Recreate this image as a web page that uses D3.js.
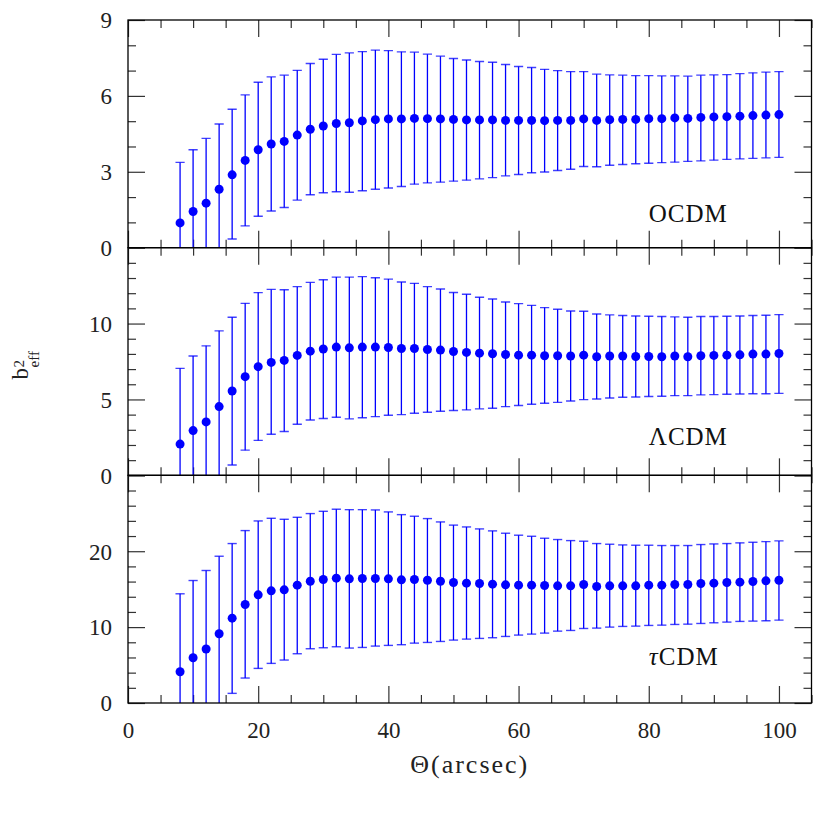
<!DOCTYPE html>
<html><head><meta charset="utf-8">
<script src="https://cdn.jsdelivr.net/npm/d3@7"></script>
<style>body{margin:0;background:#fff}</style>
</head><body><svg id="c" width="830" height="830"></svg>
<script>
const theta = [8,10,12,14,16,18,20,22,24,26,28,30,32,34,36,38,40,42,44,46,48,50,
  52,54,56,58,60,62,64,66,68,70,72,74,76,78,80,82,84,86,88,90,92,94,96,98,100];

const panelPrefix = ["", "\u039B", "\u03C4"];
const panelPrefixItalic = [false, false, true];
const panelSuffix = ["OCDM", "CDM", "CDM"];

const ocdmMean = [0.98,1.43,1.76,2.31,2.88,3.45,3.87,4.10,4.20,4.45,4.68,4.81,4.91,4.94,5.01,5.06,5.09,5.09,5.11,5.10,5.09,5.07,
  5.05,5.05,5.05,5.03,5.03,5.03,5.02,5.03,5.03,5.09,5.03,5.06,5.07,5.07,5.10,5.10,5.13,5.11,5.15,5.17,5.18,5.20,5.22,5.24,5.26];
const ocdmHi = [3.37,3.87,4.32,4.89,5.47,6.04,6.54,6.75,6.82,7.01,7.28,7.45,7.64,7.70,7.75,7.81,7.79,7.74,7.73,7.65,7.57,7.48,
  7.42,7.36,7.33,7.24,7.16,7.12,7.05,7.00,6.96,6.96,6.86,6.83,6.82,6.80,6.80,6.79,6.79,6.78,6.82,6.83,6.84,6.88,6.91,6.94,6.96];
const ocdmLo = [-1.41,-1.01,-0.80,-0.27,0.34,0.86,1.24,1.45,1.59,1.88,2.09,2.17,2.21,2.19,2.25,2.31,2.36,2.42,2.51,2.56,2.59,2.63,
  2.67,2.72,2.77,2.84,2.89,2.96,2.99,3.05,3.10,3.21,3.20,3.26,3.29,3.32,3.34,3.36,3.38,3.41,3.43,3.46,3.49,3.51,3.53,3.55,3.57];

const lcdmMean = [2.06,2.95,3.52,4.53,5.56,6.50,7.16,7.44,7.57,7.90,8.18,8.32,8.45,8.40,8.45,8.45,8.42,8.36,8.36,8.29,8.25,8.16,
  8.10,8.05,8.01,7.96,7.92,7.92,7.88,7.88,7.86,7.92,7.81,7.86,7.86,7.83,7.83,7.81,7.86,7.81,7.88,7.90,7.92,7.94,7.99,7.99,8.03];
const lcdmHi = [7.05,7.86,8.53,9.52,10.42,11.33,12.04,12.25,12.23,12.43,12.71,12.89,13.06,13.06,13.09,13.02,12.93,12.74,12.65,12.43,12.28,12.05,
  11.93,11.73,11.62,11.42,11.31,11.20,11.05,10.94,10.83,10.81,10.63,10.57,10.53,10.50,10.48,10.46,10.44,10.42,10.46,10.46,10.48,10.50,10.53,10.55,10.59];
const lcdmLo = [-2.93,-1.96,-1.49,-0.46,0.68,1.66,2.30,2.71,2.89,3.37,3.65,3.74,3.83,3.72,3.79,3.87,3.96,4.00,4.09,4.16,4.22,4.27,
  4.31,4.38,4.42,4.53,4.60,4.68,4.75,4.81,4.90,4.99,5.03,5.10,5.14,5.16,5.19,5.21,5.25,5.25,5.30,5.32,5.34,5.36,5.38,5.38,5.40];

const tcdmMean = [4.12,5.96,7.11,9.12,11.18,12.98,14.25,14.78,14.91,15.53,16.05,16.27,16.45,16.36,16.40,16.40,16.36,16.23,16.27,16.18,16.05,15.88,
  15.79,15.75,15.66,15.57,15.53,15.53,15.48,15.44,15.44,15.61,15.35,15.44,15.44,15.44,15.53,15.53,15.61,15.61,15.75,15.79,15.88,15.92,16.01,16.10,16.18];
const tcdmHi = [14.39,16.14,17.46,19.34,21.01,22.72,23.99,24.34,24.21,24.47,24.96,25.26,25.53,25.48,25.48,25.44,25.18,24.82,24.61,24.30,23.86,23.44,
  23.20,22.94,22.68,22.37,22.11,21.97,21.71,21.54,21.40,21.32,21.01,20.92,20.83,20.79,20.79,20.75,20.75,20.75,20.88,20.96,21.01,21.10,21.18,21.27,21.36];
const tcdmLo = [-6.15,-4.22,-3.24,-1.10,1.27,3.29,4.56,5.22,5.66,6.49,7.15,7.28,7.41,7.24,7.32,7.50,7.59,7.68,7.89,7.98,8.11,8.29,
  8.42,8.51,8.60,8.77,8.95,9.08,9.21,9.47,9.56,9.82,9.87,10.00,10.09,10.13,10.22,10.26,10.35,10.39,10.48,10.57,10.66,10.75,10.79,10.83,10.92];

const xDomain = [0, 105];
const xMajorTicks = [0,20,40,60,80,100];
const yDomains = [[0,9],[0,15],[0,30]];
const yMajorTicks = [[0,3,6,9],[0,5,10,15],[0,10,20,30]];
const yLabelTicks = [[0,3,6,9],[0,5,10],[0,10,20]];
const yMinorSteps = [1,1,2];

const series = [
  {mean: ocdmMean, hi: ocdmHi, lo: ocdmLo},
  {mean: lcdmMean, hi: lcdmHi, lo: lcdmLo},
  {mean: tcdmMean, hi: tcdmHi, lo: tcdmLo}
];

const L = 128, R = 811.5, T = 20, B = 703;
const ph = (B - T) / 3;
const FONT = "'Liberation Serif', 'Times New Roman', serif";
const BLUE = "#0000ff";
const svg = d3.select("#c");

const x = d3.scaleLinear().domain(xDomain).range([L, R]);
const xMinor = d3.range(0, 105.001, 5);

series.forEach((s, i) => {
  const top = T + i * ph, bot = top + ph;
  const y = d3.scaleLinear().domain(yDomains[i]).range([bot, top]);
  const g = svg.append("g");
  const clipId = "clip" + i;
  svg.append("clipPath").attr("id", clipId).append("rect")
    .attr("x", L).attr("y", top).attr("width", R - L).attr("height", ph);

  const yMinor = d3.range(yDomains[i][0], yDomains[i][1] + 0.001, yMinorSteps[i]);
  const tickStyle = sel => { sel.select(".domain").remove(); sel.selectAll("line").attr("stroke", "#333").attr("stroke-width", 1.2); };

  [[d3.axisBottom, bot], [d3.axisTop, top]].forEach(([fn, yy]) => {
    g.append("g").attr("transform", `translate(0,${yy})`)
      .call(fn(x).tickValues(xMinor.filter(v => !xMajorTicks.includes(v))).tickSize(-8).tickFormat(""))
      .call(tickStyle);
    g.append("g").attr("transform", `translate(0,${yy})`)
      .call(fn(x).tickValues(xMajorTicks).tickSize(-17).tickFormat(""))
      .call(tickStyle);
  });
  [[d3.axisLeft, L], [d3.axisRight, R]].forEach(([fn, xx]) => {
    g.append("g").attr("transform", `translate(${xx},0)`)
      .call(fn(y).tickValues(yMinor.filter(v => !yMajorTicks[i].includes(v))).tickSize(-8).tickFormat(""))
      .call(tickStyle);
    g.append("g").attr("transform", `translate(${xx},0)`)
      .call(fn(y).tickValues(yMajorTicks[i]).tickSize(-17).tickFormat(""))
      .call(tickStyle);
  });
  const lab = g.append("g").attr("transform", `translate(${L},0)`)
    .call(d3.axisLeft(y).tickValues(yLabelTicks[i]).tickSize(0).tickPadding(16));
  lab.select(".domain").remove();
  lab.selectAll("text").attr("font-family", FONT).attr("font-size", 23).attr("fill", "#222")
    .attr("dy", "0.34em");

  const cl = g.append("g").attr("clip-path", `url(#${clipId})`);
  const data = theta.map((t, k) => ({t, m: s.mean[k], hi: s.hi[k], lo: s.lo[k]}));
  cl.selectAll("line.eb").data(data).join("line").attr("class", "eb")
    .attr("x1", d => x(d.t)).attr("x2", d => x(d.t))
    .attr("y1", d => y(d.lo)).attr("y2", d => y(d.hi))
    .attr("stroke", BLUE).attr("stroke-width", 1.3);
  cl.selectAll("line.ch").data(data).join("line").attr("class", "ch")
    .attr("x1", d => x(d.t) - 4.6).attr("x2", d => x(d.t) + 4.6)
    .attr("y1", d => y(d.hi)).attr("y2", d => y(d.hi))
    .attr("stroke", BLUE).attr("stroke-opacity", 0.75).attr("stroke-width", 1.4);
  cl.selectAll("line.cl").data(data).join("line").attr("class", "cl")
    .attr("x1", d => x(d.t) - 4.6).attr("x2", d => x(d.t) + 4.6)
    .attr("y1", d => y(d.lo)).attr("y2", d => y(d.lo))
    .attr("stroke", BLUE).attr("stroke-opacity", 0.75).attr("stroke-width", 1.4);
  cl.selectAll("circle").data(data).join("circle")
    .attr("cx", d => x(d.t)).attr("cy", d => y(d.m)).attr("r", 4.5).attr("fill", BLUE);

  g.append("rect").attr("x", L).attr("y", top).attr("width", R - L).attr("height", ph)
    .attr("fill", "none").attr("stroke", "#000").attr("stroke-width", 1.3);

  const labelY = [1, 2, 5][i];
  const t = g.append("text").attr("x", x(80)).attr("y", y(labelY))
    .attr("font-family", FONT).attr("font-size", 25).attr("fill", "#111")
    .attr("letter-spacing", 1);
  if (panelPrefix[i]) t.append("tspan").attr("font-style", panelPrefixItalic[i] ? "italic" : "normal").text(panelPrefix[i]);
  t.append("tspan").text(panelSuffix[i]);
});

const xl = svg.append("g").attr("transform", `translate(0,${B})`)
  .call(d3.axisBottom(x).tickValues(xMajorTicks).tickSize(0).tickPadding(19));
xl.select(".domain").remove();
xl.selectAll("text").attr("font-family", FONT).attr("font-size", 23).attr("fill", "#222").attr("dy", "0.71em");

svg.append("text").attr("x", (L + R) / 2).attr("y", 773).attr("text-anchor", "middle")
  .attr("font-family", FONT).attr("font-size", 26).attr("letter-spacing", 2).attr("fill", "#222")
  .text("\u0398(arcsec)");

const yt = svg.append("g").attr("transform", `translate(28,${(T + B) / 2}) rotate(-90)`);
yt.append("text").attr("x", -18).attr("y", 0).attr("font-family", FONT).attr("font-size", 23).attr("fill", "#222").text("b");
yt.append("text").attr("x", -6).attr("y", -4).attr("font-family", FONT).attr("font-size", 15).attr("fill", "#222").text("2");
yt.append("text").attr("x", -6).attr("y", 11).attr("font-family", FONT).attr("font-size", 15).attr("fill", "#222").text("eff");
</script>
</body></html>
